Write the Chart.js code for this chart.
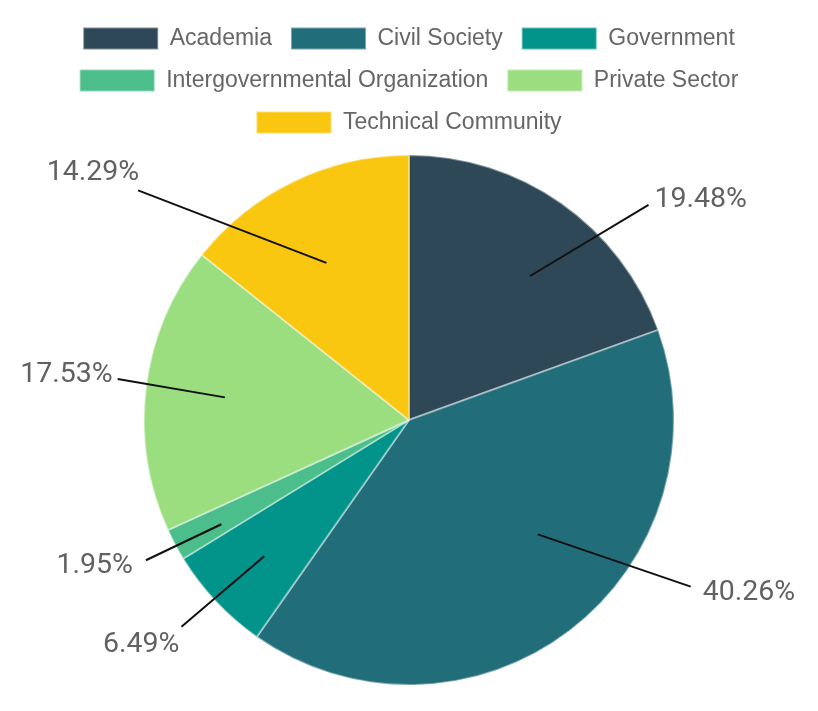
<!DOCTYPE html>
<html>
<head>
<meta charset="utf-8">
<script src="https://cdn.jsdelivr.net/npm/chart.js@4/dist/chart.umd.min.js"></script>
<style>
  html, body { margin: 0; padding: 0; background: #fff; }
  #wrap { width: 818px; height: 711px; }
</style>
</head>
<body>
<div id="wrap"><canvas id="grafico"></canvas></div>
<script>
const setores = [
  "Academia",
  "Civil Society",
  "Government",
  "Intergovernmental Organization",
  "Private Sector",
  "Technical Community"
];
const percentuais = [19.48, 40.26, 6.49, 1.95, 17.53, 14.29];
const cores = ["#2e4857", "#226d7a", "#02938b", "#4bbe8b", "#9bde7f", "#f9c70f"];

// ajustes das linhas de chamada (graus relativos ao meio da fatia, fração do raio)
const chamadas = [
  { di: 5,   ri: 0.71, de: 13,  re: 1.215, align: "left",  dx: 6,   dy: -5 },
  { di: -11, ri: 0.65, de: -22, re: 1.235, align: "left",  dx: 12,  dy: 6 },
  { di: 0,   ri: 0.75, de: 1,   re: 1.16,  align: "right", dx: -2,  dy: 18 },
  { di: -1,  ri: 0.81, de: 0,   re: 1.125, align: "right", dx: -13, dy: 6 },
  { di: 0,   ri: 0.70, de: 1,   re: 1.11,  align: "right", dx: -5,  dy: -4 },
  { di: -2,  ri: 0.67, de: -24, re: 1.34,  align: "right", dx: 1,   dy: -18 }
];

const rotulosExternos = {
  id: "rotulosExternos",
  afterDatasetsDraw(chart) {
    const ctx = chart.ctx;
    const arcos = chart.getDatasetMeta(0).data;
    ctx.save();
    arcos.forEach((arco, i) => {
      const c = chamadas[i];
      const { x, y, startAngle, endAngle, outerRadius } = arco.getProps(["x", "y", "startAngle", "endAngle", "outerRadius"], true);
      const meio = (startAngle + endAngle) / 2;
      const ai = meio + c.di * Math.PI / 180;
      const ae = meio + c.de * Math.PI / 180;
      const x1 = x + Math.cos(ai) * outerRadius * c.ri;
      const y1 = y + Math.sin(ai) * outerRadius * c.ri;
      const x2 = x + Math.cos(ae) * outerRadius * c.re;
      const y2 = y + Math.sin(ae) * outerRadius * c.re;

      ctx.strokeStyle = "#111";
      ctx.lineWidth = 2;
      ctx.beginPath();
      ctx.moveTo(x1, y1);
      ctx.lineTo(x2, y2);
      ctx.stroke();

      ctx.fillStyle = "#616161";
      ctx.font = "28.5px Roboto";
      ctx.textAlign = c.align;
      ctx.textBaseline = "middle";
      ctx.fillText(percentuais[i].toFixed(2) + "%", x2 + c.dx, y2 + c.dy);
    });
    ctx.restore();
  }
};

const grafico = new Chart(document.getElementById("grafico"), {
  type: "pie",
  data: {
    labels: setores,
    datasets: [{
      data: percentuais,
      backgroundColor: cores,
      borderColor: "rgba(255, 255, 255, 0.4)",
      borderWidth: 2
    }]
  },
  options: {
    responsive: true,
    maintainAspectRatio: false,
    animation: false,
    radius: 265,
    layout: { padding: { top: 8, bottom: 15 } },
    plugins: {
      legend: {
        position: "top",
        labels: {
          boxWidth: 75,
          boxHeight: 22,
          padding: 19,
          color: "#666",
          font: { family: "'Liberation Sans', Arial, sans-serif", size: 23 }
        }
      },
      tooltip: { enabled: false }
    }
  },
  plugins: [rotulosExternos]
});
</script>
</body>
</html>
